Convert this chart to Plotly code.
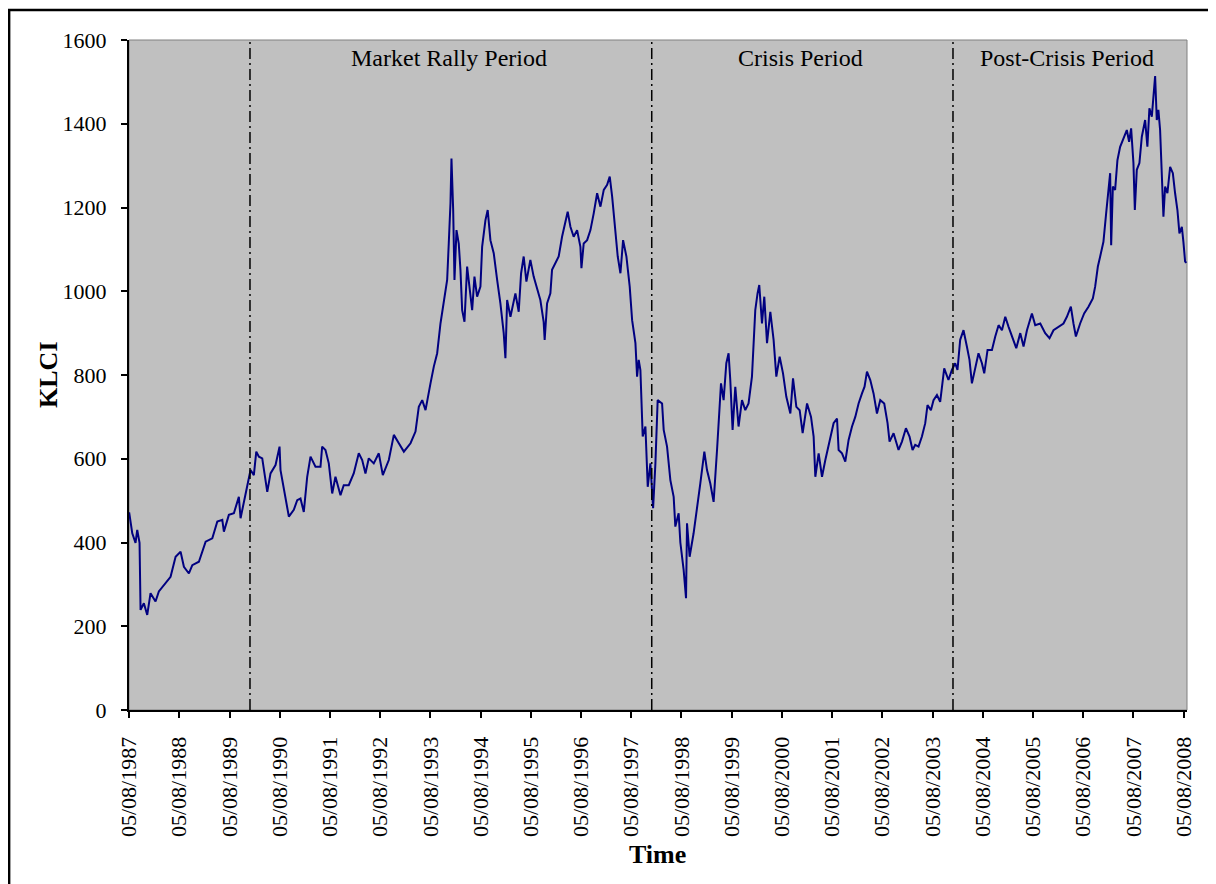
import pandas as pd
import plotly.graph_objects as go

# ---- data (decimal years, KLCI values) ----
years = [
    1987.595, 1987.657, 1987.722, 1987.756, 1987.802, 1987.822, 1987.888, 1987.955,
    1988.021, 1988.120, 1988.186, 1988.319, 1988.419, 1988.519, 1988.618, 1988.684,
    1988.783, 1988.851, 1988.982, 1989.116, 1989.249, 1989.349, 1989.448, 1989.480,
    1989.579, 1989.679, 1989.778, 1989.812, 1989.912, 1990.011, 1990.077, 1990.125,
    1990.177, 1990.244, 1990.344, 1990.409, 1990.509, 1990.589, 1990.608, 1990.674,
    1990.774, 1990.873, 1990.941, 1991.006, 1991.072, 1991.140, 1991.206, 1991.305,
    1991.405, 1991.438, 1991.504, 1991.570, 1991.638, 1991.703, 1991.803, 1991.868,
    1991.968, 1992.067, 1992.167, 1992.235, 1992.300, 1992.366, 1992.465, 1992.565,
    1992.645, 1992.764, 1992.864, 1992.963, 1993.063, 1993.196, 1993.295, 1993.361,
    1993.429, 1993.495, 1993.528, 1993.594, 1993.660, 1993.727, 1993.793, 1993.859,
    1993.926, 1993.958, 1993.992, 1994.012, 1994.046, 1994.072, 1994.112, 1994.157,
    1994.191, 1994.225, 1994.271, 1994.324, 1994.390, 1994.424, 1994.470, 1994.523,
    1994.589, 1994.623, 1994.689, 1994.734, 1994.788, 1994.854, 1994.922, 1994.987,
    1995.053, 1995.087, 1995.121, 1995.187, 1995.286, 1995.352, 1995.399, 1995.451,
    1995.505, 1995.584, 1995.650, 1995.718, 1995.783, 1995.849, 1995.869, 1995.917,
    1995.983, 1996.016, 1996.082, 1996.148, 1996.215, 1996.281, 1996.327, 1996.381,
    1996.446, 1996.514, 1996.580, 1996.600, 1996.645, 1996.713, 1996.779, 1996.844,
    1996.912, 1996.978, 1997.044, 1997.111, 1997.163, 1997.211, 1997.276, 1997.322,
    1997.376, 1997.429, 1997.495, 1997.561, 1997.609, 1997.675, 1997.708, 1997.740,
    1997.774, 1997.820, 1997.874, 1997.920, 1997.973, 1998.027, 1998.073, 1998.118,
    1998.206, 1998.238, 1998.305, 1998.371, 1998.437, 1998.470, 1998.536, 1998.570,
    1998.636, 1998.683, 1998.703, 1998.755, 1998.834, 1998.902, 1998.968, 1999.048,
    1999.101, 1999.167, 1999.233, 1999.301, 1999.332, 1999.380, 1999.432, 1999.486,
    1999.531, 1999.565, 1999.611, 1999.665, 1999.730, 1999.798, 1999.864, 1999.929,
    1999.997, 2000.029, 2000.063, 2000.108, 2000.142, 2000.196, 2000.242, 2000.296,
    2000.362, 2000.427, 2000.481, 2000.547, 2000.614, 2000.680, 2000.760, 2000.813,
    2000.879, 2000.945, 2001.004, 2001.092, 2001.171, 2001.223, 2001.257, 2001.323,
    2001.390, 2001.456, 2001.556, 2001.621, 2001.689, 2001.721, 2001.788, 2001.854,
    2001.920, 2001.988, 2002.053, 2002.119, 2002.187, 2002.238, 2002.286, 2002.352,
    2002.417, 2002.485, 2002.551, 2002.630, 2002.696, 2002.736, 2002.816, 2002.915,
    2002.983, 2003.062, 2003.134, 2003.194, 2003.247, 2003.313, 2003.381, 2003.447,
    2003.492, 2003.560, 2003.612, 2003.680, 2003.745, 2003.825, 2003.910, 2003.978,
    2004.044, 2004.089, 2004.143, 2004.209, 2004.276, 2004.328, 2004.376, 2004.442,
    2004.507, 2004.575, 2004.621, 2004.687, 2004.774, 2004.840, 2004.906, 2004.973,
    2005.039, 2005.105, 2005.173, 2005.258, 2005.338, 2005.403, 2005.471, 2005.570,
    2005.636, 2005.736, 2005.835, 2005.921, 2006.000, 2006.100, 2006.199, 2006.267,
    2006.346, 2006.398, 2006.446, 2006.531, 2006.611, 2006.697, 2006.784, 2006.830,
    2006.884, 2006.930, 2006.995, 2007.049, 2007.095, 2007.129, 2007.149, 2007.183,
    2007.228, 2007.274, 2007.328, 2007.393, 2007.461, 2007.507, 2007.547, 2007.593,
    2007.621, 2007.660, 2007.712, 2007.760, 2007.826, 2007.871, 2007.911, 2007.959,
    2007.991, 2008.025, 2008.058, 2008.090, 2008.124, 2008.158, 2008.190, 2008.224,
    2008.269, 2008.323, 2008.377, 2008.422, 2008.468, 2008.508, 2008.556, 2008.587,
    2008.621, 2008.647,
]
klci = [
    472, 422, 399, 430, 399, 239, 255, 227,
    279, 259, 283, 303, 318, 366, 378, 342,
    326, 346, 354, 402, 410, 450, 454, 426,
    466, 470, 509, 458, 517, 573, 561, 617,
    605, 601, 521, 565, 585, 629, 573, 525,
    462, 478, 501, 505, 473, 557, 605, 581,
    581, 629, 621, 589, 517, 557, 513, 537,
    537, 565, 613, 597, 565, 601, 589, 613,
    561, 597, 657, 637, 617, 637, 665, 724,
    740, 716, 740, 780, 820, 852, 923, 979,
    1027, 1114, 1210, 1317, 1194, 1027, 1146, 1114,
    1051, 955, 927, 1059, 995, 955, 1035, 987,
    1011, 1106, 1170, 1194, 1122, 1091, 1027, 971,
    900, 840, 979, 939, 995, 951, 1043, 1083,
    1023, 1075, 1035, 1003, 979, 927, 884, 971,
    995, 1051, 1067, 1083, 1130, 1162, 1190, 1154,
    1130, 1146, 1106, 1055, 1114, 1122, 1146, 1186,
    1234, 1202, 1242, 1254, 1274, 1226, 1138, 1083,
    1043, 1122, 1083, 1011, 931, 876, 796, 836,
    812, 653, 677, 533, 589, 482, 589, 740,
    732, 669, 629, 549, 509, 438, 470, 400,
    334, 267, 446, 366, 422, 478, 541, 617,
    573, 541, 497, 621, 677, 780, 740, 828,
    852, 788, 669, 772, 677, 740, 716, 732,
    796, 860, 955, 995, 1015, 923, 987, 876,
    951, 884, 796, 844, 804, 748, 708, 792,
    724, 716, 661, 732, 700, 653, 557, 613,
    557, 597, 653, 685, 696, 621, 613, 593,
    645, 677, 700, 732, 756, 772, 808, 788,
    756, 708, 740, 732, 685, 641, 661, 621,
    641, 673, 653, 621, 633, 629, 653, 685,
    728, 716, 740, 752, 736, 816, 788, 812,
    828, 812, 884, 907, 868, 836, 780, 820,
    852, 828, 804, 860, 860, 892, 919, 907,
    939, 915, 892, 864, 900, 868, 907, 947,
    919, 923, 900, 888, 907, 915, 923, 939,
    963, 923, 892, 923, 947, 963, 983, 1011,
    1059, 1083, 1118, 1186, 1250, 1282, 1110, 1250,
    1242, 1313, 1345, 1365, 1385, 1357, 1389, 1306,
    1194, 1290, 1306, 1369, 1409, 1345, 1437, 1417,
    1473, 1514, 1409, 1433, 1385, 1297, 1178, 1250,
    1234, 1297, 1282, 1234, 1194, 1138, 1154, 1118,
    1071, 1068,
]
tick_years = list(range(1987, 2009))
tick_labels = [f"05/08/{y}" for y in tick_years]
period_breaks = ["1990-01-01", "1998-01-01", "2004-01-01"]
period_names = ["Market Rally Period", "Crisis Period", "Post-Crisis Period"]
period_label_pos = [0.3025, 0.6344, 0.8869]


def to_date(y):
    yr = int(y)
    start = pd.Timestamp(yr, 1, 1)
    end = pd.Timestamp(yr + 1, 1, 1)
    return start + (end - start) * (y - yr)


dates = [to_date(y) for y in years]
tick_vals = [pd.Timestamp(y, 8, 5) for y in tick_years]

FONT = "Liberation Serif, Times New Roman, serif"

fig = go.Figure()
fig.add_trace(go.Scatter(
    x=dates, y=klci, mode="lines",
    line=dict(color="#000080", width=2),
    showlegend=False, hoverinfo="skip",
))

shapes = [
    # plot-area frame (grey)
    dict(type="rect", xref="paper", yref="paper", x0=0, x1=1, y0=0, y1=1,
         line=dict(color="#808080", width=1), layer="below"),
    # outer black border of the figure
    dict(type="rect", xref="paper", yref="paper", x0=-0.1133, x1=1.0237,
         y0=-0.30, y1=1.0448, line=dict(color="black", width=2.5), layer="above"),
]
for d in period_breaks:
    shapes.append(dict(type="line", xref="x", yref="paper", x0=d, x1=d, y0=0, y1=1,
                       line=dict(color="black", width=1.5, dash="11px,4px,2px,4px"),
                       layer="above"))

annotations = []
for name, px in zip(period_names, period_label_pos):
    annotations.append(dict(text=name, xref="paper", yref="paper", x=px, y=0.973,
                            xanchor="center", yanchor="middle", showarrow=False,
                            font=dict(family=FONT, size=24, color="black")))
annotations.append(dict(text="<b>KLCI</b>", xref="paper", yref="paper", x=-0.0766, y=0.5,
                        xanchor="center", yanchor="middle", textangle=-90, showarrow=False,
                        font=dict(family=FONT, size=26, color="black")))
annotations.append(dict(text="<b>Time</b>", xref="paper", yref="paper", x=0.4995, y=-0.2164,
                        xanchor="center", yanchor="middle", showarrow=False,
                        font=dict(family=FONT, size=26, color="black")))

fig.update_layout(
    width=1216, height=884,
    margin=dict(l=121, r=37, t=32, b=182),
    paper_bgcolor="white", plot_bgcolor="#C0C0C0",
    shapes=shapes, annotations=annotations,
    font=dict(family=FONT, size=22, color="black"),
)
fig.update_xaxes(
    type="date", range=[pd.Timestamp(1987, 8, 5), pd.Timestamp(2008, 8, 29)],
    tickmode="array", tickvals=tick_vals, ticktext=tick_labels, tickangle=-90,
    ticks="outside", ticklen=6, tickwidth=1.5, tickcolor="black",
    showline=True, linecolor="black", linewidth=2, showgrid=False, zeroline=False,
    tickfont=dict(family=FONT, size=22, color="black"), ticklabelstandoff=10,
)
fig.update_yaxes(
    range=[0, 1600], tickmode="linear", tick0=0, dtick=200,
    ticks="outside", ticklen=6, tickwidth=1.5, tickcolor="black",
    showline=True, linecolor="black", linewidth=2, showgrid=False, zeroline=False,
    tickfont=dict(family=FONT, size=22, color="black"), ticklabelstandoff=10,
)

fig.write_html("out.html")
